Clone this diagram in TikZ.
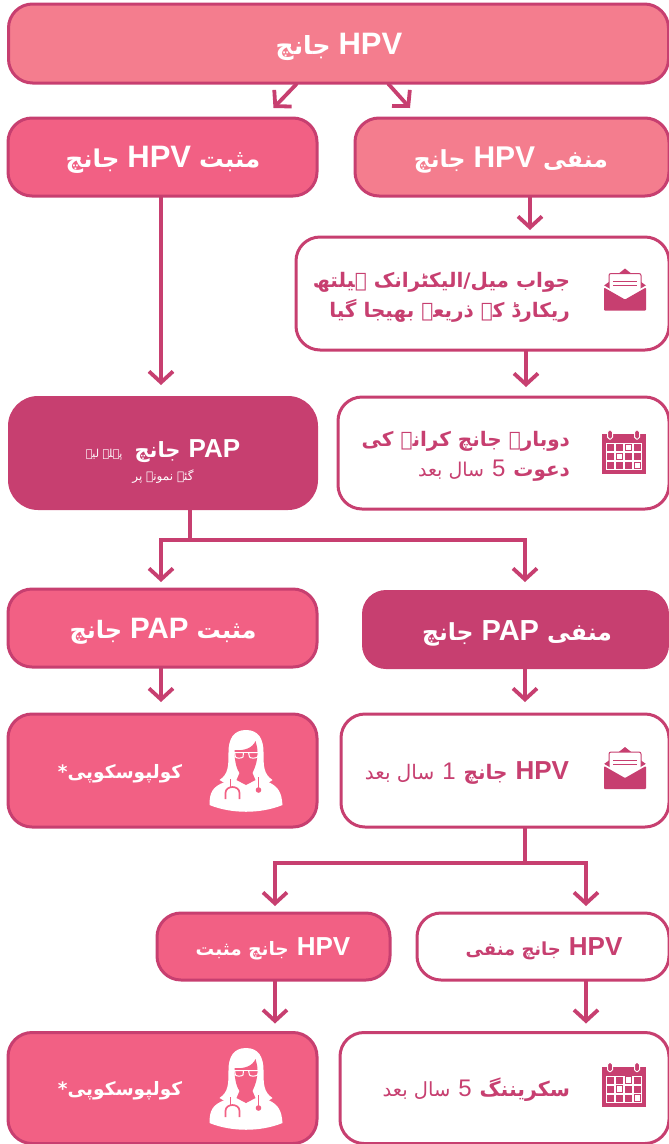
\documentclass[tikz,border=0pt]{standalone}
\usepackage{fontspec}
\usetikzlibrary{arrows.meta}
\TeXXeTstate=1
\newfontfamily\ur[Script=Arabic]{DejaVu Sans}
\newfontfamily\lat{Liberation Sans}
\definecolor{dk}{HTML}{C73F70}
\definecolor{mid}{HTML}{F26084}
\definecolor{lt}{HTML}{F47D8E}
\newcommand\lb[2]{{\fontsize{#1}{#1}\selectfont\lat\bfseries\beginL #2\endL}}
\newcommand\lr[2]{{\fontsize{#1}{#1}\selectfont\lat\beginL #2\endL}}
\newcommand\ub[2]{{\fontsize{#1}{#1}\selectfont\ur\bfseries #2}}
\newcommand\ua[2]{{\fontsize{#1}{#1}\selectfont\ur #2}}
\newcommand\wgap{\hspace{8pt}}
\tikzset{
  x=1pt,y=-1pt,
  boxs/.style={rectangle,rounded corners=24pt,line width=3pt,draw=dk,outer sep=0pt,inner sep=0pt},
  wbox/.style={boxs,fill=white},
  midbox/.style={boxs,fill=mid},
  ltbox/.style={boxs,fill=lt},
  dkbox/.style={boxs,fill=dk},
  wtxt/.style={text=white},
  ptxt/.style={text=dk},
  lab/.style={inner sep=0pt,outer sep=0pt},
  arr/.style={draw=dk,line width=3.8pt,-{Straight Barb[length=11pt,width=24pt,line width=3.8pt]}},
  conn/.style={draw=dk,line width=3.8pt},
  envelope/.pic={
    \fill[dk] (21,0) -- (31,8) -- (11,8) -- cycle;
    \fill[dk] (0,17) -- (7,12) -- (7,22) -- cycle;
    \fill[dk] (42,17) -- (35,12) -- (35,22) -- cycle;
    \draw[dk,line width=1pt,fill=white,rounded corners=2pt] (5,5) rectangle (37,30);
    \draw[dk,line width=.8pt] (9,13) -- (33,13) (9,17) -- (33,17);
    \fill[white] (0,17) -- (21,29) -- (42,17) -- (42,22) -- (21,34) -- (0,22) -- cycle;
    \fill[dk,rounded corners=1pt] (0,19) -- (21,31) -- (42,19) -- (42,42) -- (0,42) -- cycle;
  },
  calendar/.pic={
    \fill[dk] (0,4) rectangle (44,44);
    \fill[white] (4,13) rectangle (40,40);
    \foreach \yy/\xx in {14/5,14/14,14/32,23/5,23/23,23/32,32/5,32/14,32/23}
      \fill[dk] (\xx,\yy) rectangle ++(7,7);
    \foreach \yy/\xx in {14/23,23/14,32/32}
      \draw[dk,line width=.9pt] (\xx+.4,\yy+.4) rectangle ++(6.2,6.2);
    \foreach \xx in {8,35}{
      \draw[white,line width=1pt,fill=dk,rounded corners=1.8pt] (\xx-2.5,0) rectangle (\xx+2.5,9);
    }
  },
  doctor/.pic={
    \fill[white] (1,75) .. controls (1,62) and (4,57) .. (16,52) -- (16,48) -- (60,48) -- (60,52) .. controls (70,57) and (73,62) .. (74,75)
      .. controls (52,84) and (23,84) .. (1,75) -- cycle;
    \fill[white] (37.5,0) .. controls (25,0) and (20,9) .. (20,22) .. controls (20,36) and (20,44) .. (11,50)
      .. controls (15,53) and (20,54) .. (26,52) -- (50,52) .. controls (55,54) and (61,53) .. (64,50)
      .. controls (55,44) and (55,36) .. (55,22) .. controls (55,9) and (50,0) .. (37.5,0) -- cycle;
    \fill[mid] (26,20) .. controls (36,21) and (44,18) .. (47,11) .. controls (48,15) and (49,18) .. (49,22)
      .. controls (49,34) and (45,40) .. (44,43) -- (47,50) -- (37.5,55) -- (28,50) -- (31,43)
      .. controls (29,40) and (26,34) .. (26,20) -- cycle;
    \draw[white,line width=1pt,fill=mid] (26,22.5) -- (35,22.5) -- (34.5,27) .. controls (33,28.5) and (28,28.5) .. (27,27) -- cycle;
    \draw[white,line width=1pt,fill=mid] (40,22.5) -- (50,22.5) -- (49,27) .. controls (47,28.5) and (42,28.5) .. (41,27) -- cycle;
    \draw[white,line width=1pt] (26,22) -- (50,22);
    \draw[mid,line width=1.7pt] (22,49) -- (22,57);
    \draw[mid,line width=1.7pt] (17,69) -- (17,63) .. controls (17,55) and (31,55) .. (31,63) -- (31,69);
    \draw[mid,line width=1.7pt] (50,47) -- (50,60);
    \fill[mid] (50,60) circle (2.8);
  },
}
\begin{document}
\begin{tikzpicture}
\useasboundingbox (0,0) rectangle (669,1144);
% boxes
\node[ltbox,minimum width=660pt,minimum height=79pt] (A) at (338.5,43.5) {};
\node[midbox,minimum width=309pt,minimum height=78pt] (B) at (162.5,157) {};
\node[ltbox,minimum width=314pt,minimum height=78pt] (C) at (512,157) {};
\node[wbox,minimum width=373pt,minimum height=113pt] (D) at (482.5,293.5) {};
\node[dkbox,draw=none,rounded corners=30pt,minimum width=310pt,minimum height=114pt] (E) at (163,453) {};
\node[wbox,minimum width=331pt,minimum height=112pt] (F) at (503.5,453) {};
\node[midbox,minimum width=309pt,minimum height=78pt] (G) at (162.5,628) {};
\node[dkbox,draw=none,minimum width=307pt,minimum height=79pt] (H) at (515.5,629.5) {};
\node[midbox,minimum width=309pt,minimum height=113pt] (I) at (162.5,770.5) {};
\node[wbox,minimum width=328pt,minimum height=113pt] (J) at (505,770.5) {};
\node[midbox,minimum width=233pt,minimum height=67pt] (K) at (273.5,946.5) {};
\node[wbox,minimum width=252pt,minimum height=67pt] (L) at (543,946.5) {};
\node[midbox,minimum width=309pt,minimum height=111pt] (M) at (162.5,1088) {};
\node[wbox,minimum width=329pt,minimum height=111pt] (N) at (504.5,1088) {};
% labels
\node[lab,wtxt] (tA) at (339,47) {\beginR\lb{31}{HPV}\wgap\ub{25}{جانچ}\endR};
\node[lab,wtxt] (tB) at (163,160) {\beginR\ub{24.5}{مثبت}\wgap\lb{31}{HPV}\wgap\ub{24.5}{جانچ}\endR};
\node[lab,wtxt] (tC) at (511,160) {\beginR\ub{23.5}{منفی}\wgap\lb{30}{HPV}\wgap\ub{23.5}{جانچ}\endR};
\node[lab,ptxt,align=right,anchor=east,font=\fontsize{20}{30}\selectfont] (tD) at (570,297) {\beginR\ub{20}{جواب میل/الیکٹرانک ہیلتھ}\endR\\\beginR\ub{20}{ریکارڈ کے ذریعے بھیجا گیا}\endR};
\node[lab,wtxt,align=center,font=\fontsize{20}{23}\selectfont] (tE) at (163,462) {\beginR\lb{26}{PAP}\wgap\ub{21}{جانچ}\ \ \ua{11}{پہلے لیے}\endR\\\beginR\ua{12}{گئے نمونے پر}\endR};
\node[lab,ptxt,align=right,anchor=east,font=\fontsize{20}{30}\selectfont] (tF) at (570,456.5) {\beginR\ub{20}{دوبارہ جانچ کرانے کی}\endR\\\beginR\ub{20}{دعوت}\wgap\lr{24}{5}\wgap\ua{19}{سال بعد}\endR};
\node[lab,wtxt] (tG) at (163,631) {\beginR\ub{24}{مثبت}\wgap\lb{29.5}{PAP}\wgap\ub{24}{جانچ}\endR};
\node[lab,wtxt] (tH) at (517,633) {\beginR\ub{23.5}{منفی}\wgap\lb{29}{PAP}\wgap\ub{23.5}{جانچ}\endR};
\node[lab,wtxt] (tI) at (120,774) {\beginR\ub{18.5}{کولپوسکوپی*}\endR};
\node[lab,ptxt,anchor=east] (tJ) at (569,773) {\beginR\lb{26}{HPV}\wgap\ub{20}{جانچ}\wgap\lr{24}{1}\wgap\ua{20}{سال بعد}\endR};
\node[lab,wtxt] (tK) at (273,949) {\beginR\lb{26}{HPV}\wgap\ub{18.5}{جانچ مثبت}\endR};
\node[lab,ptxt] (tL) at (544,949) {\beginR\lb{26}{HPV}\wgap\ub{18}{جانچ منفی}\endR};
\node[lab,wtxt] (tM) at (120,1091) {\beginR\ub{18.5}{کولپوسکوپی*}\endR};
\node[lab,ptxt,anchor=east] (tN) at (570,1090) {\beginR\ub{20.5}{سکریننگ}\wgap\lr{24}{5}\wgap\ua{19.5}{سال بعد}\endR};
% icons
\pic at (604,268.5) {envelope};
\pic at (604,747) {envelope};
\pic at (602,430) {calendar};
\pic at (602,1062.5) {calendar};
\pic at (208.5,730) {doctor};
\pic at (208.5,1048) {doctor};
% connector helpers
\coordinate (t1) at (273.5,108);
\coordinate (t2) at (410,108);
\coordinate (xs1) at (297,83.5);
\coordinate (xs2) at (388,83.5);
\coordinate (xC) at (530,0);
\coordinate (xD) at (526,0);
\coordinate (xE) at (190,0);
\coordinate (xL) at (161,0);
\coordinate (xR) at (525,0);
\coordinate (xK) at (275,0);
\coordinate (xN) at (586,0);
\coordinate (j1) at (190,540);
\coordinate (j2) at (525,863);
% connectors
\draw[arr] (xs1) -- (t1);
\draw[arr] (xs2) -- (t2);
\draw[arr,shorten >=11pt] (B.south -| xL) -- (E.north -| xL);
\draw[arr,shorten >=7pt] (C.south -| xC) -- (D.north -| xC);
\draw[arr,shorten >=10pt] (D.south -| xD) -- (F.north -| xD);
\draw[conn] (E.south -| xE) -- (j1);
\draw[arr,shorten >=7pt] (j1) -- (j1 -| xL) -- (G.north -| xL);
\draw[arr,shorten >=8pt] (j1) -- (j1 -| xR) -- (H.north -| xR);
\draw[arr,shorten >=12pt] (G.south -| xL) -- (I.north -| xL);
\draw[arr,shorten >=12pt] (H.south -| xR) -- (J.north -| xR);
\draw[conn] (J.south -| xR) -- (j2);
\draw[arr,shorten >=7pt] (j2) -- (j2 -| xK) -- (K.north -| xK);
\draw[arr,shorten >=7pt] (j2) -- (j2 -| xN) -- (L.north -| xN);
\draw[arr,shorten >=9pt] (K.south -| xK) -- (M.north -| xK);
\draw[arr,shorten >=9pt] (L.south -| xN) -- (N.north -| xN);
\end{tikzpicture}
\end{document}
